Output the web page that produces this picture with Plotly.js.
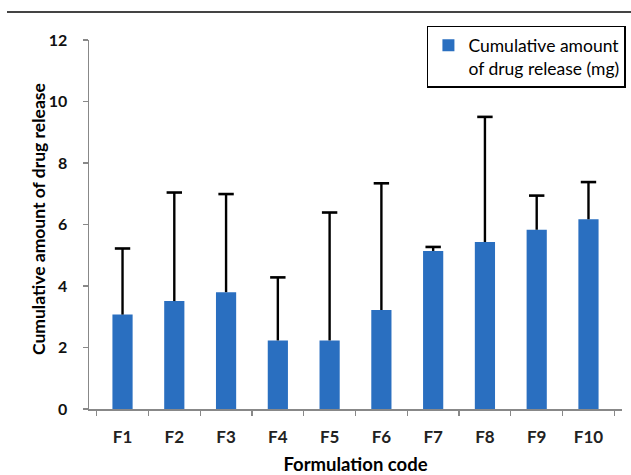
<!DOCTYPE html>
<html>
<head>
<meta charset="utf-8">
<script src="https://cdn.plot.ly/plotly-3.0.1.min.js"></script>
<style>html,body{margin:0;padding:0;background:#fff}#chart{width:631px;height:475px}</style>
</head>
<body>
<div id="chart"></div>
<script>
const categories = ["F1","F2","F3","F4","F5","F6","F7","F8","F9","F10"];
const releaseValues = [3.07, 3.51, 3.80, 2.23, 2.23, 3.22, 5.14, 5.43, 5.83, 6.17];
const errorPlus = [2.15, 3.53, 3.19, 2.05, 4.16, 4.12, 0.13, 4.07, 1.11, 1.21];
const yTicks = [0, 2, 4, 6, 8, 10, 12];
const seriesName = "Cumulative amount<br>of drug release (mg)";
const xTitle = "Formulation code";
const yTitle = "Cumulative amount of drug release";

const FONT = "Lato, 'Open Sans', sans-serif";

const barTrace = {
  type: "bar",
  x: categories,
  y: releaseValues,
  name: seriesName,
  marker: {color: "#2a6fc0"},
  error_y: {type: "data", array: errorPlus, symmetric: false, arrayminus: errorPlus.map(() => 0),
            color: "#000", thickness: 2.4, width: 0},
  showlegend: true
};

// caps only at the upper end of each error bar
const capTrace = {
  type: "scatter", mode: "markers",
  x: categories,
  y: releaseValues.map((v, i) => v + errorPlus[i]),
  marker: {symbol: "line-ew", size: 11, line: {color: "#000", width: 2.6}},
  showlegend: false, hoverinfo: "skip"
};

const layout = {
  width: 631, height: 475,
  margin: {l: 89, r: 9, t: 40, b: 66, autoexpand: false},
  paper_bgcolor: "#fff", plot_bgcolor: "#fff",
  bargap: 0.61,
  font: {family: FONT, color: "#000"},
  showlegend: true,
  legend: {
    x: 0.634, y: 1.038, xanchor: "left", yanchor: "top",
    bordercolor: "#000", borderwidth: 1.5, bgcolor: "#fff",
    font: {family: FONT, size: 17.5, color: "#000"},
    valign: "top", itemwidth: 30
  },
  xaxis: {
    type: "category",
    showline: true, linecolor: "#888", linewidth: 1.5,
    ticks: "outside", ticklen: 5, tickcolor: "#888", tickwidth: 1.2,
    tickson: "boundaries",
    ticklabelstandoff: 12,
    showgrid: false, zeroline: false,
    tickfont: {family: FONT, size: 17, color: "#222", weight: "bold"},
    title: {text: "<b>" + xTitle + "</b>", font: {family: FONT, size: 18.5, color: "#000"}, standoff: 12}
  },
  yaxis: {
    range: [0, 12],
    tickvals: yTicks, ticktext: yTicks.map(v => "<b>" + v + "</b>"),
    showline: true, linecolor: "#888", linewidth: 1.5,
    ticks: "outside", ticklen: 5, tickcolor: "#888", tickwidth: 1.2,
    ticklabelstandoff: 12,
    showgrid: false, zeroline: false,
    tickfont: {family: FONT, size: 16, color: "#111"}
  },
  annotations: [{
    text: "<b>" + yTitle + "</b>", textangle: -90,
    xref: "paper", yref: "paper",
    x: (38 - 89) / 533, y: (409 - 219) / 369,
    xanchor: "center", yanchor: "middle", showarrow: false,
    font: {family: FONT, size: 17.5, color: "#000"}
  }],
  shapes: [{
    type: "line", xref: "paper", yref: "paper",
    x0: (7 - 89) / 533, x1: (631 - 89) / 533,
    y0: (475 - 66 - 12) / 369, y1: (475 - 66 - 12) / 369,
    line: {color: "#444", width: 2}
  }]
};

Plotly.newPlot("chart", [barTrace, capTrace], layout, {displayModeBar: false, staticPlot: true});
</script>
</body>
</html>
